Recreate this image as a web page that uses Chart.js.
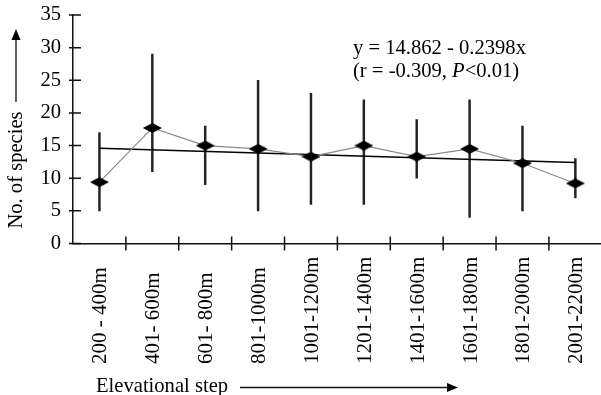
<!DOCTYPE html>
<html><head><meta charset="utf-8">
<script src="https://cdn.jsdelivr.net/npm/chart.js@4.4.1/dist/chart.umd.min.js"></script>
<style>html,body{margin:0;padding:0;background:#fff;overflow:hidden;width:601px;height:395px}canvas{display:block}</style>
</head><body><canvas id="c" width="612" height="395"></canvas>
<script>
const categories = ['200 - 400m','401- 600m','601- 800m','801-1000m','1001-1200m','1201-1400m','1401-1600m','1601-1800m','1801-2000m','2001-2200m'];
const meanSpecies = [9.4, 17.7, 15.0, 14.5, 13.3, 15.0, 13.3, 14.5, 12.3, 9.2];
const rangeLow = [5, 11, 9, 5, 6, 6, 10, 4, 5, 7];
const rangeHigh = [17, 29, 18, 25, 23, 22, 19, 22, 18, 13];
const trendLine = [14.6, null, null, null, null, null, null, null, null, 12.4];
const yTitle = 'No. of species';
const xTitle = 'Elevational step';
const equationLine1 = 'y = 14.862 - 0.2398x';
const equationLine2 = ['(r = -0.309, ', 'P', '<0.01)'];

const FONT = '"Liberation Serif", "Times New Roman", serif';
const FS = 20.6;

// flattened diamond marker
const marker = document.createElement('canvas');
marker.width = 19; marker.height = 10;
(function(){
  const m = marker.getContext('2d');
  m.fillStyle = '#000';
  m.beginPath();
  m.moveTo(0, 5); m.lineTo(9.5, 0); m.lineTo(19, 5); m.lineTo(9.5, 10); m.closePath();
  m.fill();
})();

const decor = {
  id: 'decor',
  afterDraw(chart) {
    const ctx = chart.ctx, xs = chart.scales.x, ys = chart.scales.y, ca = chart.chartArea;
    ctx.save();
    ctx.strokeStyle = '#111'; ctx.lineWidth = 1.5;
    ctx.beginPath();
    ys.ticks.forEach(t => {
      const py = ys.getPixelForValue(t.value);
      ctx.moveTo(ca.left - 4, py); ctx.lineTo(ca.left + 8, py);
    });
    const step = xs.getPixelForValue(1) - xs.getPixelForValue(0);
    for (let i = 1; i <= categories.length; i++) {
      const px = xs.getPixelForValue(i) - step / 2;
      ctx.moveTo(px, ca.bottom - 7); ctx.lineTo(px, ca.bottom + 7);
    }
    ctx.stroke();

    ctx.fillStyle = '#000';
    ctx.font = '21px ' + FONT;
    // rotated category labels, bottom aligned
    ctx.textAlign = 'left'; ctx.textBaseline = 'middle';
    categories.forEach((lab, i) => {
      const px = xs.getPixelForValue(i);
      ctx.save(); ctx.translate(px + 1.5, 364); ctx.rotate(-Math.PI / 2);
      ctx.fillText(lab, 0, 0); ctx.restore();
    });

    ctx.font = FS + 'px ' + FONT;
    // y title + arrow
    ctx.save(); ctx.translate(17, 170); ctx.rotate(-Math.PI / 2);
    ctx.textAlign = 'center'; ctx.textBaseline = 'middle';
    ctx.fillText(yTitle, 0, 0); ctx.restore();
    ctx.lineWidth = 1.3;
    ctx.beginPath(); ctx.moveTo(16, 102); ctx.lineTo(16, 38); ctx.stroke();
    ctx.beginPath(); ctx.moveTo(16, 29); ctx.lineTo(11.5, 40); ctx.lineTo(20.5, 40); ctx.closePath(); ctx.fill();

    // x title + arrow
    ctx.textAlign = 'left'; ctx.textBaseline = 'alphabetic';
    ctx.fillText(xTitle, 96, 392);
    ctx.beginPath(); ctx.moveTo(240, 387.5); ctx.lineTo(449, 387.5); ctx.stroke();
    ctx.beginPath(); ctx.moveTo(458, 387.5); ctx.lineTo(447, 383); ctx.lineTo(447, 392); ctx.closePath(); ctx.fill();

    // equation
    ctx.fillText(equationLine1, 353, 54);
    let x = 353;
    ctx.fillText(equationLine2[0], x, 77); x += ctx.measureText(equationLine2[0]).width;
    ctx.font = 'italic ' + FS + 'px ' + FONT;
    ctx.fillText(equationLine2[1], x, 77); x += ctx.measureText(equationLine2[1]).width;
    ctx.font = FS + 'px ' + FONT;
    ctx.fillText(equationLine2[2], x, 77);
    ctx.restore();
  }
};

new Chart(document.getElementById('c'), {
  type: 'bar',
  data: {
    labels: categories,
    datasets: [
      {
        type: 'bar', label: 'range',
        data: rangeLow.map((lo, i) => [lo, rangeHigh[i]]),
        backgroundColor: '#222', borderWidth: 0, barThickness: 1.8, order: 3
      },
      {
        type: 'line', label: 'trend', data: trendLine, spanGaps: true,
        borderColor: '#000', borderWidth: 1.6, pointRadius: 0, order: 2
      },
      {
        type: 'line', label: 'mean', data: meanSpecies,
        borderColor: '#8a8a8a', borderWidth: 1.2, pointStyle: marker,
        pointRadius: 9, backgroundColor: '#000', order: 1
      }
    ]
  },
  options: {
    responsive: false, animation: false,
    layout: { padding: { top: 15, right: 5.5, left: 0, bottom: 0 } },
    plugins: { legend: { display: false }, tooltip: { enabled: false } },
    scales: {
      x: {
        type: 'category', offset: true,
        grid: { display: false, drawTicks: false, offset: true },
        border: { display: true, color: '#111', width: 1.5 },
        ticks: { display: false },
        afterFit(s) { s.height = 151.5; }
      },
      y: {
        min: 0, max: 35,
        ticks: { stepSize: 5, padding: 2, color: '#000', font: { family: FONT, size: FS } },
        grid: { display: false, drawTicks: true, tickLength: 10 },
        border: { display: true, color: '#111', width: 1.5 },
        afterFit(s) { s.width = 73; }
      }
    }
  },
  plugins: [decor]
});
</script>
</body></html>
